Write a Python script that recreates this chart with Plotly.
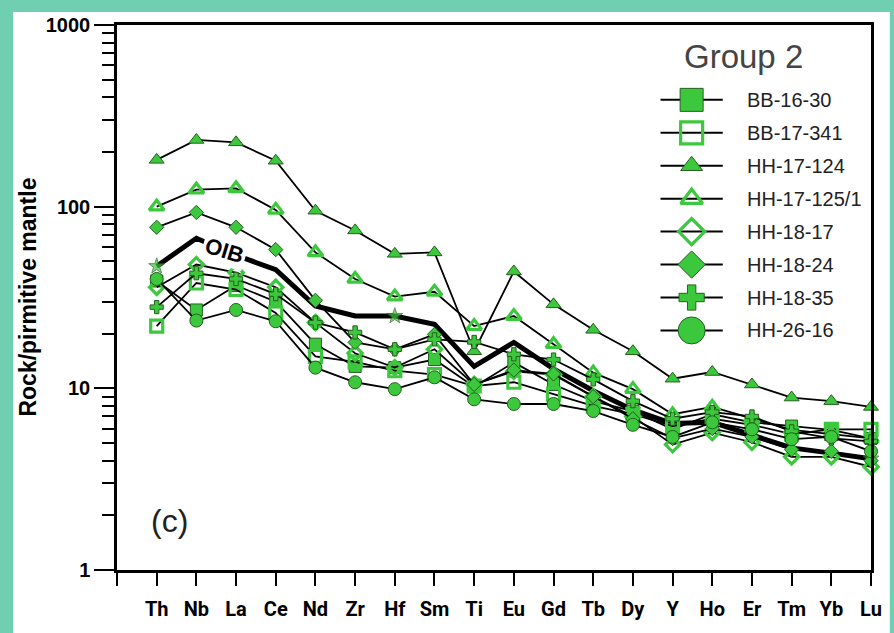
import math
import plotly.graph_objects as go

# Trace elements, normalised to primitive mantle
elements = ["Th", "Nb", "La", "Ce", "Nd", "Zr", "Hf", "Sm", "Ti", "Eu",
            "Gd", "Tb", "Dy", "Y", "Ho", "Er", "Tm", "Yb", "Lu"]

bb_16_30 = [39, 27, 36.8, 30, 17.5, 13.2, 13, 14.4, 10.2, 13.9,
            10.5, 8.5, 7.5, 5.95, 7.2, 6.5, 6.2, 5.9, 5.3]
bb_17_341 = [22, 38, 35, 26, 15, 14, 12.5, 11.9, 10.3, 10.8,
             9.3, 8.0, 7.2, 6.2, 6.8, 6.3, 5.6, 5.95, 5.95]
hh_17_124 = [181, 233, 226, 179, 95, 74, 55, 56, 16, 44,
             29, 21, 16, 11.3, 12.3, 10.5, 8.9, 8.5, 7.9]
hh_17_125_1 = [100, 124, 126, 96, 56, 40, 32, 34, 22, 25,
               17.5, 12.2, 9.9, 7.2, 7.9, 6.8, 5.9, 5.6, 5.3]
hh_18_17 = [36, 48, 43.4, 36, 23, 15.6, 13, 16.4, 10.5, 12.4,
            11.9, 9.0, 7.0, 4.9, 5.7, 5.05, 4.2, 4.2, 3.7]
hh_18_24 = [77, 93, 77, 58, 30.5, 17.9, 16.4, 19.8, 10.5, 12.6,
            12, 9, 6.8, 5.3, 6.0, 5.4, 4.6, 4.5, 4.0]
hh_18_35 = [28, 43, 40, 33, 23, 20.3, 16.4, 18.6, 18, 15.4,
            14.4, 11.2, 8.5, 6.8, 7.4, 7.0, 5.8, 5.3, 5.1]
hh_26_16 = [40, 23.6, 27, 23.4, 13, 10.8, 9.9, 11.5, 8.7, 8.2,
            8.2, 7.5, 6.3, 5.4, 6.5, 5.95, 5.25, 5.4, 4.5]
oib = [47, 67, 54, 45, 28.4, 25, 25, 22.5, 13.2, 17.9,
       12.8, 9.7, 7.6, 6.4, 6.5, 5.5, 4.7, 4.4, 4.1]

sample_names = ["BB-16-30", "BB-17-341", "HH-17-124", "HH-17-125/1",
                "HH-18-17", "HH-18-24", "HH-18-35", "HH-26-16"]
sample_values = [bb_16_30, bb_17_341, hh_17_124, hh_17_125_1,
                 hh_18_17, hh_18_24, hh_18_35, hh_26_16]

y_tick_vals = [1, 10, 100, 1000]
y_tick_text = ["1", "10", "100", "1000"]

# ---- styling ----
GREEN = "#3cc83c"
EDGE = "#25601f"
TEAL = "#6fcfb0"
FONT = "Liberation Sans, Arial, sans-serif"
NARROW = "Roboto, Liberation Sans, sans-serif"
OIB_MARK_EVERY = 6

# symbol, size on plot, size in key
styles = {
    "BB-16-30": ("square", 12, 23),
    "BB-17-341": ("square-open", 12, 22),
    "HH-17-124": ("triangle-up", 13, 19),
    "HH-17-125/1": ("triangle-up-open", 13, 19),
    "HH-18-17": ("diamond-open", 11, 20),
    "HH-18-24": ("diamond", 11, 21),
    "HH-18-35": ("cross", 11, 21),
    "HH-26-16": ("circle", 13, 27),
}

W, H = 894, 633
ML, MR, MT, MB = 117, 14, 25, 62
PW, PH = W - ML - MR, H - MT - MB


def px_x(p):
    return (p - ML) / PW


def px_y(p):
    return (H - MB - p) / PH


def marker_style(symbol, size):
    if symbol.endswith("-open"):
        return dict(symbol=symbol, size=size, color=GREEN,
                    line=dict(width=3.2, color=GREEN))
    return dict(symbol=symbol, size=size, color=GREEN,
                line=dict(width=1, color=EDGE))


xs = list(range(len(elements)))
fig = go.Figure()

# OIB reference pattern: thick line, star on every sixth element
star_on = [i % OIB_MARK_EVERY == 0 for i in xs]
fig.add_trace(go.Scatter(
    x=xs, y=oib, mode="lines+markers", showlegend=False,
    line=dict(color="black", width=5),
    marker=dict(symbol="star", size=[12 if s else 0 for s in star_on],
                color=GREEN,
                line=dict(width=[1 if s else 0 for s in star_on], color=EDGE)),
    cliponaxis=False,
))

for name, vals in zip(sample_names, sample_values):
    sym, size, _ = styles[name]
    fig.add_trace(go.Scatter(
        x=xs, y=vals, mode="lines+markers", name=name, showlegend=False,
        line=dict(color="black", width=1.8),
        marker=marker_style(sym, size),
        cliponaxis=False,
    ))

# Sample key, drawn on an overlay axis measured in pixels
KEY_TOP, KEY_STEP = 100, 33
KEY_X0, KEY_X1, KEY_TEXT = 667, 730, 752
for i, name in enumerate(sample_names):
    sym, _, ksize = styles[name]
    ky = KEY_TOP + i * KEY_STEP
    fig.add_trace(go.Scatter(
        x=[KEY_X0, KEY_X1], y=[ky, ky], mode="lines", showlegend=False,
        line=dict(color="black", width=2), xaxis="x2", yaxis="y2",
        hoverinfo="skip", cliponaxis=False,
    ))
    fig.add_trace(go.Scatter(
        x=[(KEY_X0 + KEY_X1) / 2], y=[ky], mode="markers", showlegend=False,
        marker=marker_style(sym, ksize), xaxis="x2", yaxis="y2",
        hoverinfo="skip", cliponaxis=False,
    ))
    fig.add_annotation(x=KEY_TEXT, y=ky, xref="x2", yref="y2", text=name,
                       showarrow=False, xanchor="left", yanchor="middle",
                       font=dict(family=FONT, size=20, color="#222222"))

# OIB label sitting on its own line between Nb and La
t = 0.7
oib_lab_y = math.log10(oib[1]) + t * (math.log10(oib[2]) - math.log10(oib[1]))
fig.add_annotation(x=1 + t, y=oib_lab_y, xref="x", yref="y", text="<b>OIB</b>",
                   showarrow=False, textangle=17, bgcolor="white", borderpad=2,
                   xanchor="center", yanchor="middle",
                   font=dict(family=FONT, size=22, color="black"))

fig.add_annotation(x=px_x(751), y=px_y(57), xref="paper", yref="paper",
                   text="Group 2", showarrow=False,
                   xanchor="center", yanchor="middle",
                   font=dict(family=FONT, size=33, color="#444444"))
fig.add_annotation(x=px_x(170), y=px_y(522), xref="paper", yref="paper",
                   text="(c)", showarrow=False,
                   xanchor="center", yanchor="middle",
                   font=dict(family=FONT, size=32, color="#222222"))
fig.add_annotation(x=px_x(26), y=px_y(298), xref="paper", yref="paper",
                   text="<b>Rock/pirmitive mantle</b>", textangle=-90,
                   showarrow=False, xanchor="center", yanchor="middle",
                   font=dict(family=FONT, size=23, color="black"))

# white panel over the teal page
fig.add_shape(type="rect", xref="paper", yref="paper", layer="below",
              x0=px_x(12), x1=px_x(W + 5), y0=px_y(H + 5), y1=px_y(12),
              fillcolor="white", line=dict(width=0))

minor_vals = [m * 10 ** e for e in range(3) for m in range(2, 10)]

fig.update_layout(
    width=W, height=H,
    margin=dict(l=ML, r=MR, t=MT, b=MB),
    paper_bgcolor=TEAL, plot_bgcolor="white",
    xaxis=dict(
        range=[-1, len(elements) - 1],
        tickmode="array", tickvals=list(range(-1, len(elements))),
        ticktext=[""] + elements,
        ticks="outside", ticklen=13, tickwidth=2, tickcolor="black",
        showline=True, linewidth=2.5, linecolor="black", mirror=True,
        showgrid=False, zeroline=False,
        tickfont=dict(family=NARROW, size=20, color="black", weight="bold"),
        ticklabelstandoff=6,
    ),
    yaxis=dict(
        type="log", range=[0, 3],
        tickmode="array", tickvals=y_tick_vals, ticktext=y_tick_text,
        ticks="outside", ticklen=20, tickwidth=2, tickcolor="black",
        minor=dict(tickmode="array", tickvals=minor_vals, ticks="outside",
                   ticklen=12, tickwidth=2, tickcolor="black", showgrid=False),
        showline=True, linewidth=2.5, linecolor="black", mirror=True,
        showgrid=False, zeroline=False,
        tickfont=dict(family=FONT, size=20, color="black", weight="bold"),
    ),
    xaxis2=dict(overlaying="x", range=[ML, W - MR], visible=False, anchor="y2"),
    yaxis2=dict(overlaying="y", range=[H - MB, MT], visible=False, anchor="x2"),
)

fig.write_html("out.html")
